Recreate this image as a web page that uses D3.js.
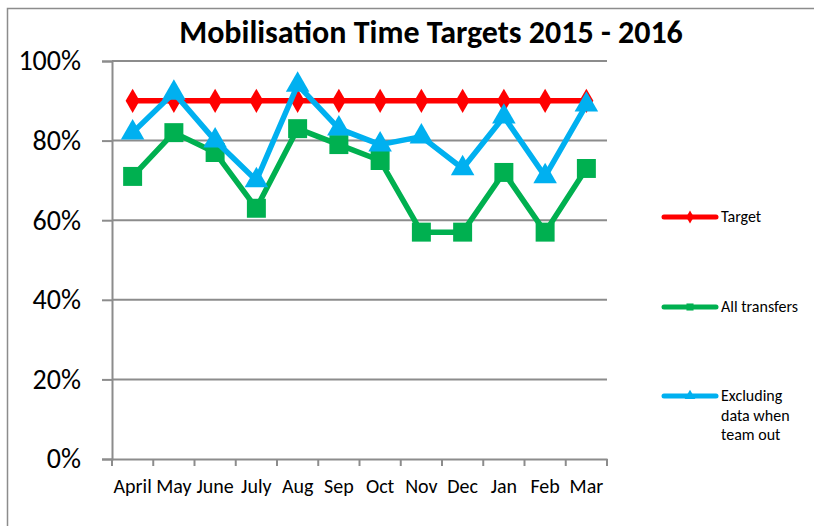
<!DOCTYPE html>
<html>
<head>
<meta charset="utf-8">
<script src="https://cdn.jsdelivr.net/npm/d3@7"></script>
<style>
  body { margin: 0; background: #fff; }
  svg { display: block; font-family: Carlito, Lato, "Liberation Sans", sans-serif; }
</style>
</head>
<body>
<div id="chart"></div>
<script>
// Mobilisation time targets, monthly percentages
const months = ['April', 'May', 'June', 'July', 'Aug', 'Sep', 'Oct', 'Nov', 'Dec', 'Jan', 'Feb', 'Mar'];
const target = [90, 90, 90, 90, 90, 90, 90, 90, 90, 90, 90, 90];
const allTransfers = [71, 82, 77, 63, 83, 79, 75, 57, 57, 72, 57, 73];
const excludingTeamOut = [82, 92, 80, 70, 94, 83, 79, 81, 73, 86, 71, 89];
const yTicks = [0, 20, 40, 60, 80, 100];

const width = 814;
const height = 526;
const margin = { top: 61, right: 207, bottom: 67, left: 112 };

const svg = d3.select('#chart')
    .append('svg')
    .attr('width', width)
    .attr('height', height);

// Outer frame (only top and left edges visible)
svg.append('path')
    .attr('d', `M7.5,${height} V8.5 H${width}`)
    .attr('fill', 'none')
    .attr('stroke', '#8c8c8c')
    .attr('stroke-width', 1.5);

const x = d3.scaleBand()
    .domain(months)
    .range([margin.left, width - margin.right])
    .padding(0);

const y = d3.scaleLinear()
    .domain([0, 100])
    .range([height - margin.bottom, margin.top]);

// Title
svg.append('text')
    .attr('x', 431)
    .attr('y', 43)
    .attr('text-anchor', 'middle')
    .style('font-size', '32px')
    .style('font-weight', '700')
    .text('Mobilisation Time Targets 2015 - 2016');

// Grid lines
svg.append('g')
    .attr('class', 'grid')
    .selectAll('line')
    .data(yTicks.filter(d => d > 0))
    .enter()
    .append('line')
    .attr('x1', margin.left)
    .attr('x2', width - margin.right)
    .attr('y1', d => y(d))
    .attr('y2', d => y(d))
    .attr('stroke', '#8c8c8c')
    .attr('stroke-width', 2);

// Y axis
const yAxis = svg.append('g')
    .attr('transform', `translate(${margin.left},0)`)
    .call(d3.axisLeft(y)
        .tickValues(yTicks)
        .tickSize(10)
        .tickPadding(21)
        .tickFormat(d => d + '%'));
yAxis.select('.domain').attr('stroke', '#8c8c8c').attr('stroke-width', 2);
yAxis.selectAll('.tick line').attr('stroke', '#8c8c8c').attr('stroke-width', 2);
yAxis.selectAll('.tick text')
    .attr('fill', '#000')
    .style('font-size', '28px')
    .style('font-family', 'Carlito, Lato, sans-serif');

// X axis: labels centred, ticks between categories
const xAxis = svg.append('g')
    .attr('transform', `translate(0,${height - margin.bottom})`)
    .call(d3.axisBottom(x).tickSize(0).tickPadding(20));
xAxis.select('.domain').attr('stroke', '#8c8c8c').attr('stroke-width', 2);
xAxis.selectAll('.tick text')
    .attr('fill', '#000')
    .style('font-size', '20px')
    .style('font-family', 'Carlito, Lato, sans-serif');

xAxis.selectAll('.sep')
    .data(months.concat(['end']))
    .enter()
    .append('line')
    .attr('class', 'sep')
    .attr('x1', d => d === 'end' ? x.range()[1] : x(d))
    .attr('x2', d => d === 'end' ? x.range()[1] : x(d))
    .attr('y1', 0)
    .attr('y2', 7)
    .attr('stroke', '#8c8c8c')
    .attr('stroke-width', 2);

const cx = i => x(months[i]) + x.bandwidth() / 2;

const series = [
    { name: 'Target', values: target, color: '#ff0000', symbol: d3.symbolDiamond, size: 170, legendY: 217, legendLabel: ['Target'] },
    { name: 'All transfers', values: allTransfers, color: '#00b050', symbol: d3.symbolSquare, size: 360, legendY: 307, legendLabel: ['All transfers'] },
    { name: 'Excluding', values: excludingTeamOut, color: '#00b0f0', symbol: d3.symbolTriangle, size: 240, legendY: 396, legendLabel: ['Excluding', 'data when', 'team out'] }
];

const line = d3.line()
    .x((d, i) => cx(i))
    .y(d => y(d));

series.forEach(s => {
    const g = svg.append('g');
    g.append('path')
        .datum(s.values)
        .attr('d', line)
        .attr('fill', 'none')
        .attr('stroke', s.color)
        .attr('stroke-width', 5.5)
        .attr('stroke-linejoin', 'round');

    g.selectAll('.marker')
        .data(s.values)
        .enter()
        .append('path')
        .attr('class', 'marker')
        .attr('transform', (d, i) => `translate(${cx(i)},${y(d)})`)
        .attr('d', d3.symbol().type(s.symbol).size(s.size))
        .attr('fill', s.color);
});

// Legend
const legend = svg.append('g');
series.forEach(s => {
    legend.append('line')
        .attr('x1', 664)
        .attr('x2', 716)
        .attr('y1', s.legendY)
        .attr('y2', s.legendY)
        .attr('stroke', s.color)
        .attr('stroke-width', 5)
        .attr('stroke-linecap', 'round');
    legend.append('path')
        .attr('transform', `translate(690,${s.legendY})`)
        .attr('d', d3.symbol().type(s.symbol).size(50))
        .attr('fill', s.color);
    legend.append('text')
        .attr('x', 721)
        .attr('y', s.legendY + 5)
        .style('font-size', '16px')
        .selectAll('tspan')
        .data(s.legendLabel)
        .enter()
        .append('tspan')
        .attr('x', 721)
        .attr('dy', (d, i) => i === 0 ? 0 : 19.5)
        .text(d => d);
});
</script>
</body>
</html>
